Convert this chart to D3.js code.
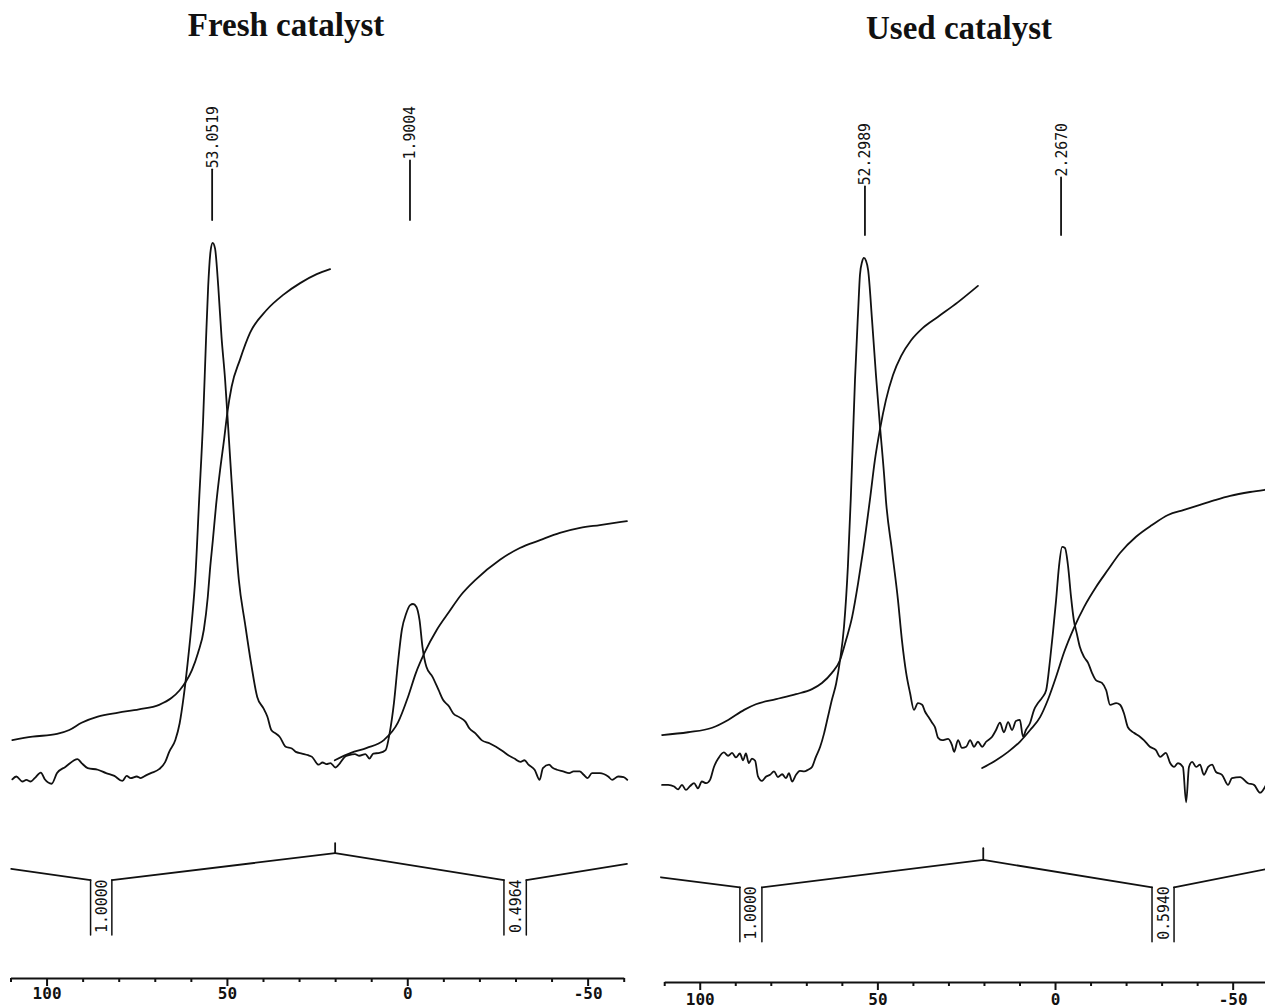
<!DOCTYPE html>
<html>
<head>
<meta charset="utf-8">
<script src="https://cdn.jsdelivr.net/npm/d3@7"></script>
<style>
  html, body { margin: 0; padding: 0; background: #fff; }
  svg { display: block; }
  .trace { fill: none; stroke: #111; stroke-width: 1.8; stroke-linejoin: round; stroke-linecap: round; }
  .title { font-family: "Liberation Serif", "Times New Roman", serif; font-weight: bold; font-size: 33px; fill: #111; }
  .mono { font-family: "DejaVu Sans Mono", monospace; font-size: 16px; fill: #111; }
  .axis path, .axis line { stroke: #111; stroke-width: 2; }
  .axis text { font-family: "DejaVu Sans Mono", monospace; font-size: 16px; font-weight: bold; fill: #111; }
</style>
</head>
<body>
<svg id="chart" width="1265" height="1008"></svg>
<script>
// chemical shift axis (ppm)
const majorTicks = [100, 50, 0, -50];
const minorTicks = [110, 90, 80, 70, 60, 40, 30, 20, 10, -10, -20, -30, -40, -60];

// spectra: [ppm, intensity]  (intensity in arbitrary units, main peak ~100)
const freshSpectrum = [
  [109.5,3.7],[108.4,4.2],[106.7,3.3],[105.6,3.6],[104.4,3.3],[103.3,3.9],[101.6,4.9],[100.5,3.7],
  [98.6,2.9],[97.1,4.8],[94.8,5.9],[91.4,7.3],[90.3,6.6],[88.6,5.7],[85.8,5.4],[83.5,4.8],[81.2,4.3],
  [79.0,3.4],[77.8,4.3],[76.7,3.9],[75.0,4.2],[73.9,3.9],[72.7,4.3],[71.1,4.8],[68.8,5.5],[67.1,6.8],
  [66.0,8.6],[64.3,10.7],[63.1,13.7],[62.0,18.4],[60.9,24.4],[59.7,32.1],[58.8,39.3],[57.7,53.6],
  [56.6,67.9],[55.8,82.1],[55.2,91.7],[54.5,98.2],[53.95,99.5],[53.3,98.5],[52.4,91.7],[51.5,82.7],
  [50.5,75.0],[49.9,69.1],[48.9,58.9],[47.8,48.2],[46.7,39.3],[45.0,31.6],[43.3,24.4],[41.6,18.4],
  [39.9,16.4],[38.8,14.9],[37.7,12.5],[36.5,11.9],[35.4,11.3],[33.7,9.5],[32.0,9.2],[30.9,8.6],
  [29.2,8.3],[27.5,8.0],[26.4,7.7],[24.6,6.3],[23.5,6.7],[22.4,6.4],[21.3,6.6],[19.9,5.8],[19.0,6.3],
  [17.3,7.7],[16.2,8.0],[14.5,8.2],[13.3,7.9],[11.6,8.2],[10.5,7.4],[9.4,8.3],[7.7,8.4],[6.0,8.9],
  [4.9,11.9],[3.7,17.3],[2.6,24.4],[1.5,30.4],[0.3,33.3],[-0.8,34.8],[-1.6,35.0],[-2.5,34.5],
  [-3.4,32.1],[-4.2,27.4],[-5.3,23.8],[-7.0,22.0],[-8.7,19.6],[-9.9,17.9],[-11.6,16.7],[-12.7,15.5],
  [-14.4,14.8],[-16.1,14.0],[-17.2,12.8],[-18.9,11.9],[-20.6,10.7],[-22.9,10.1],[-24.6,9.5],
  [-26.3,8.8],[-28.0,8.0],[-29.7,7.4],[-31.4,6.8],[-32.5,7.1],[-33.6,6.3],[-35.3,5.4],[-36.7,3.6],
  [-37.6,5.7],[-39.3,6.3],[-40.4,5.7],[-41.5,5.4],[-43.2,5.1],[-44.9,4.8],[-46.1,5.1],[-47.8,5.1],
  [-48.9,4.5],[-50.0,3.9],[-51.2,4.8],[-53.4,4.8],[-55.7,4.2],[-56.8,3.6],[-58.5,4.2],[-60.0,4.1],[-61.0,3.6]
];

const usedSpectrum = [
  [110.6,2.7],[108.9,2.7],[107.2,2.4],[106.1,1.9],[105.0,2.7],[103.9,1.8],[102.7,2.5],[101.6,3.0],
  [100.5,2.1],[99.4,3.3],[98.2,3.0],[97.1,3.6],[96.0,5.9],[94.8,7.4],[93.2,8.5],[92.0,7.9],[90.9,8.4],
  [89.8,7.6],[88.7,8.3],[87.8,7.1],[87.0,8.3],[86.2,6.6],[85.3,7.4],[84.4,7.0],[83.6,4.2],[82.5,3.4],
  [81.3,4.2],[80.2,4.5],[79.1,5.1],[78.0,4.1],[76.8,4.6],[75.7,3.9],[74.9,4.8],[74.0,3.3],[72.9,4.5],
  [71.8,5.2],[70.6,5.1],[69.5,5.4],[68.4,5.9],[67.3,7.7],[66.1,9.5],[65.0,11.9],[63.9,14.9],[62.8,17.9],
  [61.6,20.8],[60.5,25.0],[59.4,30.9],[58.3,41.7],[57.5,53.6],[56.9,64.3],[56.3,75.0],[55.4,87.5],
  [54.9,93.8],[54.3,96.1],[53.8,96.8],[53.2,96.3],[52.6,94.6],[51.5,85.7],[50.4,75.9],[49.3,67.0],
  [48.1,58.0],[47.6,53.6],[45.9,44.6],[44.2,35.7],[43.1,28.6],[41.9,22.7],[40.8,19.1],[39.7,16.1],
  [38.6,17.3],[37.4,17.0],[36.6,15.8],[35.7,14.9],[34.6,13.8],[33.8,13.0],[32.9,11.1],[31.8,10.7],
  [30.1,10.9],[29.0,9.8],[28.4,8.6],[27.3,10.7],[26.2,9.3],[25.0,9.5],[23.9,10.7],[22.8,9.5],
  [21.7,10.4],[20.5,9.5],[19.4,10.4],[17.7,11.3],[16.6,12.5],[15.5,13.8],[14.4,12.1],[13.2,13.9],
  [12.1,12.5],[11.0,14.1],[9.9,14.3],[9.0,11.3],[8.2,12.5],[7.0,13.8],[5.9,16.1],[4.8,17.3],[3.7,18.2],
  [2.5,19.6],[1.4,25.0],[0.6,29.8],[-0.3,35.7],[-1.1,41.6],[-2.0,45.2],[-2.8,45.0],[-3.7,41.6],
  [-4.5,36.3],[-5.3,32.1],[-6.1,29.8],[-7.0,27.3],[-8.2,25.5],[-9.3,24.5],[-10.4,22.7],[-11.5,21.4],
  [-13.2,20.9],[-14.4,19.6],[-15.5,17.0],[-17.2,17.3],[-18.3,17.0],[-19.4,15.5],[-20.5,13.0],
  [-22.2,12.0],[-23.9,11.3],[-25.0,10.7],[-26.7,9.5],[-28.4,8.9],[-29.6,7.7],[-31.2,8.4],[-32.4,6.6],
  [-33.5,5.9],[-34.6,6.6],[-36.0,5.9],[-36.9,-0.4],[-37.7,5.9],[-38.6,6.8],[-39.7,5.9],[-40.8,6.3],
  [-41.9,4.5],[-43.1,5.9],[-44.2,6.3],[-45.3,5.0],[-47.0,4.5],[-48.7,2.7],[-49.8,3.9],[-52.1,4.1],
  [-54.3,3.0],[-56.0,2.7],[-57.7,1.3],[-59.4,2.7]
];

// integral traces (two segments per spectrum)
const freshIntegral1 = [
  [109.5,10.7],[103.9,11.3],[97.1,11.8],[93.7,12.5],[90.3,13.8],[85.8,14.9],[80.1,15.6],[74.4,16.2],
  [68.8,17.0],[65.4,18.2],[63.1,19.6],[61.4,21.1],[59.7,23.2],[58.0,26.3],[56.4,30.4],[55.3,36.3],
  [54.7,41.1],[53.9,46.4],[53.0,52.7],[51.9,58.9],[50.8,64.3],[49.9,69.1],[48.7,73.8],[46.4,78.6],
  [43.6,83.4],[39.0,87.5],[34.4,90.2],[29.7,92.3],[25.1,93.9],[21.4,94.8]
];
const freshIntegral2 = [
  [20.1,7.1],[15.6,8.4],[11.2,9.3],[6.5,10.7],[2.6,13.8],[-0.2,18.4],[-2.4,22.7],[-4.8,26.3],
  [-8.2,30.4],[-11.6,33.6],[-14.9,36.6],[-18.9,39.3],[-25.7,42.9],[-31.2,45.0],[-36.8,46.4],
  [-42.3,47.7],[-47.9,48.6],[-53.4,49.1],[-60.9,49.8]
];
const usedIntegral1 = [
  [110.6,11.6],[103.3,12.1],[96.5,12.9],[92.0,14.3],[87.5,16.1],[84.2,17.1],[78.5,18.0],[72.9,18.9],
  [68.4,19.8],[65.6,20.9],[62.8,22.7],[60.5,25.0],[58.8,28.6],[57.1,32.7],[55.4,38.8],[54.0,44.6],
  [52.1,53.6],[50.7,60.7],[49.3,66.1],[47.6,71.4],[45.6,75.9],[43.3,79.3],[40.5,82.1],[37.2,84.3],
  [32.9,86.3],[27.3,88.9],[21.7,91.8]
];
const usedIntegral2 = [
  [20.5,5.7],[16.6,7.1],[13.2,8.6],[9.9,10.4],[7.0,12.5],[4.2,14.8],[2.0,17.9],[-0.3,22.0],[-2.5,26.3],
  [-5.3,30.7],[-8.2,34.5],[-11.5,38.0],[-14.9,41.1],[-18.3,44.1],[-22.8,47.0],[-27.3,49.1],
  [-31.8,50.9],[-36.3,51.8],[-40.8,52.7],[-45.3,53.6],[-49.3,54.3],[-54.9,55.0],[-59.1,55.4]
];

// peak picking labels
const freshPeakLabels = ["53.0519", "1.9004"];
const freshPeakPos = [54.1, -0.75];
const usedPeakLabels = ["52.2989", "2.2670"];
const usedPeakPos = [53.5, -1.7];

// integral region trace below the spectrum: [ppm, level]
const freshRegionTrace = [[109.8,-12.3],[87.8,-14.3],[81.9,-14.3],[20.0,-9.5],[-26.8,-14.3],[-33.0,-14.3],[-60.9,-11.4]];
const freshRegions = [[87.8, 81.9], [-26.8, -33.0]];
const freshIntegralValues = ["1.0000", "0.4964"];
const usedRegionTrace = [[110.9,-13.8],[88.7,-15.6],[82.5,-15.6],[20.2,-10.7],[-27.3,-15.6],[-33.5,-15.6],[-59.7,-12.3]];
const usedRegions = [[88.7, 82.5], [-27.3, -33.5]];
const usedIntegralValues = ["1.0000", "0.5940"];

// plotter glyph advance (px per character)
const charAdvance = 8.9;

const panels = [
  {
    title: "Fresh catalyst", titleX: 286, titleY: 36,
    range: [10.5, 623.7], axisY: 978, tickPad: 2,
    spectrum: freshSpectrum, integrals: [freshIntegral1, freshIntegral2],
    peakLabels: freshPeakLabels, peakPos: freshPeakPos, labelTop: 106, labelBottom: 220,
    regionTrace: freshRegionTrace, regions: freshRegions, values: freshIntegralValues,
    bracketBottom: -24.1, apexTick: -7.7
  },
  {
    title: "Used catalyst", titleX: 959, titleY: 39,
    range: [664.2, 1268.2], axisY: 982, tickPad: 4,
    spectrum: usedSpectrum, integrals: [usedIntegral1, usedIntegral2],
    peakLabels: usedPeakLabels, peakPos: usedPeakPos, labelTop: 123, labelBottom: 235,
    regionTrace: usedRegionTrace, regions: usedRegions, values: usedIntegralValues,
    bracketBottom: -25.3, apexTick: -8.6
  }
];

const svg = d3.select('#chart');
const y = d3.scaleLinear().domain([0, 100]).range([800, 240]);

panels.forEach(p => {
  const x = d3.scaleLinear().domain([110, -60]).range(p.range);
  const line = d3.line().x(d => x(d[0])).y(d => y(d[1])).curve(d3.curveMonotoneX);
  const straight = d3.line().x(d => x(d[0])).y(d => y(d[1]));
  const g = svg.append('g');

  // title
  g.append('text')
    .attr('class', 'title')
    .attr('x', p.titleX)
    .attr('y', p.titleY)
    .attr('text-anchor', 'middle')
    .text(p.title);

  // spectrum + integrals
  g.append('path').attr('class', 'trace').attr('d', line(p.spectrum));
  p.integrals.forEach(seg => {
    g.append('path').attr('class', 'trace').attr('d', line(seg));
  });

  // peak labels
  p.peakLabels.forEach((lab, i) => {
    const px = x(p.peakPos[i]);
    const len = lab.length * charAdvance;
    g.append('text')
      .attr('class', 'mono')
      .attr('transform', `translate(${px},${p.labelTop}) rotate(-90)`)
      .attr('text-anchor', 'end')
      .attr('dominant-baseline', 'central')
      .attr('textLength', len)
      .attr('lengthAdjust', 'spacingAndGlyphs')
      .text(lab);
    g.append('line')
      .attr('class', 'trace')
      .attr('x1', px).attr('x2', px)
      .attr('y1', p.labelTop + len + 1)
      .attr('y2', p.labelBottom);
  });

  // integral region trace (gaps where the brackets are)
  const tr = p.regionTrace;
  for (let i = 0; i < tr.length - 1; i++) {
    const inRegion = p.regions.some(r => r[0] === tr[i][0] && r[1] === tr[i + 1][0]);
    if (!inRegion) {
      g.append('path').attr('class', 'trace').attr('d', straight([tr[i], tr[i + 1]]));
    }
  }
  // apex tick
  const apex = tr.reduce((a, b) => (b[1] > a[1] ? b : a));
  g.append('path').attr('class', 'trace').attr('d', straight([apex, [apex[0], p.apexTick]]));

  // brackets with values
  p.regions.forEach((r, i) => {
    const lvl = tr.find(d => d[0] === r[0])[1];
    r.forEach(edge => {
      g.append('path').attr('class', 'trace')
        .style('stroke-width', 1.5)
        .attr('d', straight([[edge, lvl], [edge, p.bracketBottom]]));
    });
    const cx = (x(r[0]) + x(r[1])) / 2;
    g.append('text')
      .attr('class', 'mono')
      .attr('transform', `translate(${cx},${y(p.bracketBottom) - 2}) rotate(-90)`)
      .attr('text-anchor', 'start')
      .attr('dominant-baseline', 'central')
      .attr('textLength', p.values[i].length * charAdvance)
      .attr('lengthAdjust', 'spacingAndGlyphs')
      .text(p.values[i]);
  });

  // axis
  const axisG = g.append('g')
    .attr('class', 'axis')
    .attr('transform', `translate(0,${p.axisY})`);
  axisG.call(
    d3.axisBottom(x)
      .tickValues(majorTicks)
      .tickSize(8)
      .tickSizeOuter(0)
      .tickPadding(p.tickPad)
      .tickFormat(d => String(d))
  );
  const minorG = g.append('g')
    .attr('class', 'axis')
    .attr('transform', `translate(0,${p.axisY})`);
  minorG.call(
    d3.axisBottom(x)
      .tickValues(minorTicks)
      .tickSize(4)
      .tickSizeOuter(0)
      .tickFormat('')
  );
  minorG.select('.domain').remove();
  axisG.selectAll('.tick text').attr('fill', '#111');
});
</script>
</body>
</html>
